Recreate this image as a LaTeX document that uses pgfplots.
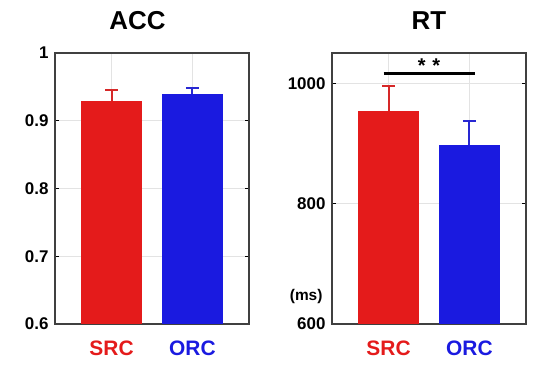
\documentclass[border=0pt]{standalone}
\usepackage{fontspec}
\setmainfont{Liberation Sans}
\usepackage{pgfplots}
\pgfplotsset{compat=1.18}
\definecolor{barred}{RGB}{228,27,27}
\definecolor{barblue}{RGB}{26,26,224}
\definecolor{errred}{RGB}{214,40,40}
\definecolor{errblue}{RGB}{40,40,210}
\pgfplotsset{
  myax/.style={
    anchor=south west, scale only axis,
    width=194bp, height=271bp,
    xmin=0.3, xmax=2.7,
    xtick={1,2},
    xticklabels={\textcolor{barred}{SRC},\textcolor{barblue}{ORC}},
    xmajorgrids, ymajorgrids,
    grid style={draw=gray!22, line width=0.8pt},
    axis line style={draw=black!75, line width=1.2pt},
    tick style={draw=black, line width=1.2pt},
    tick align=inside, major tick length=4bp,
    xtick style={draw=none},
    ytick pos=both,
    /pgf/number format/assume math mode=true,
    /pgf/number format/set thousands separator={},
    yticklabel style={font=\fontsize{17}{17}\selectfont\bfseries, anchor=base east, yshift=-6bp, xshift=-3bp},
    xticklabel style={font=\fontsize{21}{21}\selectfont\bfseries, anchor=base, yshift=-32bp},
    clip=false,
  },
  mybar/.style 2 args={ybar, bar width=0.75, draw=none, fill=#1,
    bar shift=0pt, mark=none,
    error bars/y dir=plus, error bars/y explicit,
    error bars/error bar style={draw=#2, line width=2pt},
    error bars/error mark options={draw=#2, rotate=90, mark size=6.5bp, line width=2pt},
  },
}
\begin{document}
\begin{tikzpicture}
\path[use as bounding box] (0,0) rectangle (554bp,368bp);
% ACC
\begin{axis}[myax, at={(55bp,44bp)},
  ymin=0.6, ymax=1, ytick={0.6,0.7,0.8,0.9,1},
  yticklabels={0.6,0.7,0.8,0.9,1}]
\addplot[mybar={barred}{errred}]
  coordinates {(1,0.929) +- (0,0.016)};
\addplot[mybar={barblue}{errblue}]
  coordinates {(2,0.939) +- (0,0.009)};
\node[font=\fontsize{26}{26}\selectfont\bfseries, anchor=base, yshift=23bp] at (rel axis cs:0.425,1) {ACC};
\end{axis}
% RT
\begin{axis}[myax, at={(332bp,44bp)},
  ymin=600, ymax=1050, ytick={600,800,1000}]
\addplot[mybar={barred}{errred}]
  coordinates {(1,954) +- (0,42)};
\addplot[mybar={barblue}{errblue}]
  coordinates {(2,897) +- (0,40)};
\draw[black, line width=2.6pt] (axis cs:0.94,1016) -- (axis cs:2.07,1016);
\node[font=\fontsize{20}{20}\selectfont\bfseries] at (axis cs:1.5,1029) {*\,\,*};
\node[font=\fontsize{15.5}{15.5}\selectfont\bfseries, anchor=east, xshift=-6bp] at (rel axis cs:0,0.1) {(ms)};
\node[font=\fontsize{26}{26}\selectfont\bfseries, anchor=base, yshift=23bp] at (rel axis cs:0.5,1) {RT};
\end{axis}
\end{tikzpicture}
\end{document}
